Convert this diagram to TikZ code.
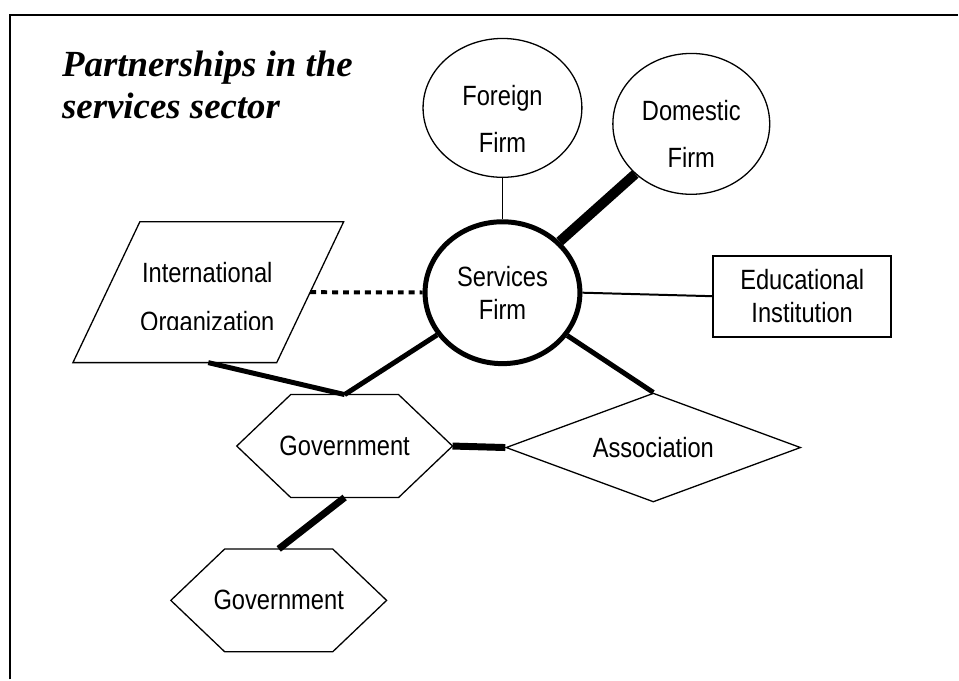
\documentclass[tikz,border=0pt]{standalone}
\usepackage{fontspec}
\setmainfont{Liberation Serif}
\newfontfamily\boxfont[FakeStretch=0.85]{Liberation Sans}
\usetikzlibrary{shapes.geometric}

\tikzset{
    shapetext/.style={font=\boxfont\fontsize{28}{33}\selectfont, align=center},
    titletext/.style={font=\bfseries\itshape\fontsize{37}{42}\selectfont, anchor=base west, inner sep=0pt},
    firm/.style={draw, ellipse, line width=1.3pt, inner sep=0pt},
    hexbox/.style={shapetext, minimum width=216bp, minimum height=103bp, inner sep=0pt, outer sep=0pt},
    slantbox/.style={minimum width=204bp, minimum height=141bp, inner sep=0pt, outer sep=0pt},
    outline/.style={line width=1.3pt, line join=miter},
}

\begin{document}
\begin{tikzpicture}[x=1bp, y=-1bp]
        \fill[white] (0,0) rectangle (959,680);
        % Frame
        \draw[line width=2pt] (10,680) -- (10,15) -- (959,15);

        % Title
        \node (title1) [titletext] at (62,77) {Partnerships in the};
        \node (title2) [titletext] at (62,119) {services sector};

        % Nodes
        \node (services) [draw, ellipse, line width=5pt, minimum width=155bp, minimum height=142bp, inner sep=0pt, shapetext] at (503,293) {Services\\Firm};
        \node (foreign) [firm, minimum width=159bp, minimum height=139bp, above of=services, node distance=185bp,
            label={[shapetext, yshift=-11pt]center:{Foreign\\[15pt]Firm}}] {};
        \node (domestic) [firm, minimum width=157bp, minimum height=141bp,
            label={[shapetext, yshift=-10pt]center:{Domestic\\[15pt]Firm}}] at (692,124) {};
        \node (edu) [draw, rectangle, line width=2pt, minimum width=178bp, minimum height=81bp, inner sep=0pt, shapetext] at (803,296.5) {Educational\\Institution};
        \node (intl) [slantbox] at (208.5,292.5) {};
        \draw[outline] ([xshift=-33.5bp]intl.south west) -- ([xshift=-33.5bp]intl.south east)
            -- ([xshift=33.5bp]intl.north east) -- ([xshift=33.5bp]intl.north west) -- cycle;
        \begin{scope}
            \clip (120,240) rectangle (300,330);
            \node (intltext) [shapetext] at (207.5,300) {International\\[16pt]Organization};
        \end{scope}
        \node (gov) [hexbox] at (345,446.5) {Government};
        \node (gov2) [hexbox] at (279,601) {Government};
        \draw[outline] (gov.west) -- ++(54,-51.5) -- ++(108,0) -- (gov.east) -- ++(-54,51.5) -- ++(-108,0) -- cycle;
        \draw[outline] (gov2.west) -- ++(54,-51.5) -- ++(108,0) -- (gov2.east) -- ++(-54,51.5) -- ++(-108,0) -- cycle;
        \node (assoc) [draw, diamond, aspect=2.7, minimum width=295bp, minimum height=109bp, inner sep=0pt, line width=1.3pt, shapetext] at (654,448) {Association};

        % Edges
        \draw[line width=1.5pt] (foreign) -- (services);
        \draw[line width=10pt] (domestic) -- (services);
        \draw[line width=2pt] (services.east) -- (edu.west);
        \draw[line width=4pt, dash pattern=on 6pt off 5pt] (intl.east) -- (services);
        \draw[line width=5pt] (intl.south) -- (gov.north);
        \draw[line width=5pt] (gov.north) -- (services);
        \draw[line width=5pt] (assoc.north) -- (services);
        \draw[line width=7pt] (gov.east) -- (assoc.west);
        \draw[line width=7pt] (gov.south) -- (gov2.north);
    \end{tikzpicture}
\end{document}
